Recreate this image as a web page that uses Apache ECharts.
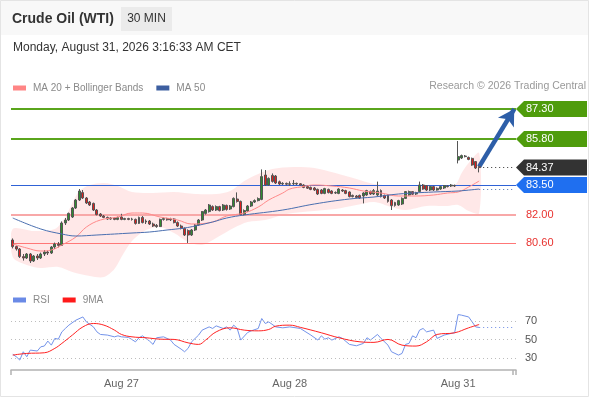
<!DOCTYPE html>
<html>
<head>
<meta charset="utf-8">
<title>Crude Oil (WTI) 30 MIN</title>
<script src="https://cdn.jsdelivr.net/npm/echarts@6/dist/echarts.min.js"></script>
<style>
    html, body { margin: 0; padding: 0; background: #fff; }
    #chart { width: 590px; height: 400px; }
</style>
</head>
<body>
<div id="chart"></div>
<script>
// 30 min candles, [open, close, low, high]
const candles = [
    [80.75, 80.42, 80.33, 80.83], [80.42, 80.30, 80.22, 80.47], [80.30, 79.92, 79.85, 80.35], [79.92, 79.85, 79.72, 80.05],
    [79.85, 80.05, 79.80, 80.10], [80.05, 79.70, 79.60, 80.10], [79.70, 79.95, 79.65, 80.00], [79.95, 79.85, 79.75, 80.05],
    [79.85, 80.05, 79.80, 80.12], [80.05, 80.15, 79.95, 80.25], [80.15, 80.10, 80.00, 80.22], [80.10, 80.40, 80.05, 80.45],
    [80.40, 80.55, 80.30, 80.62], [80.55, 80.48, 80.38, 80.65], [80.48, 81.60, 80.45, 81.68], [81.60, 81.75, 81.50, 81.85],
    [81.75, 82.08, 81.70, 82.12], [81.90, 82.35, 81.85, 82.40], [82.35, 82.75, 82.30, 82.80], [82.75, 83.20, 82.70, 83.30],
    [83.12, 82.85, 82.80, 83.25], [82.85, 82.60, 82.55, 82.90], [82.65, 82.50, 82.45, 82.70], [82.58, 82.25, 82.20, 82.62],
    [82.25, 82.02, 81.98, 82.30], [82.05, 81.95, 81.90, 82.10], [81.95, 81.88, 81.84, 82.00], [81.88, 81.80, 81.76, 81.92],
    [81.80, 81.85, 81.76, 81.90], [81.85, 81.78, 81.74, 81.90], [81.78, 81.87, 81.74, 81.92], [81.90, 81.78, 81.74, 82.06],
    [81.78, 81.82, 81.74, 81.86], [81.82, 81.78, 81.74, 81.86], [81.78, 81.80, 81.72, 81.86], [81.78, 81.58, 81.52, 81.82],
    [81.58, 81.88, 81.55, 81.92], [81.88, 81.62, 81.58, 81.95], [81.65, 81.70, 81.55, 81.78], [81.70, 81.55, 81.50, 81.75],
    [81.55, 81.45, 81.40, 81.62], [81.48, 81.42, 81.36, 81.55], [81.42, 81.78, 81.40, 81.82], [81.78, 81.82, 81.72, 81.88],
    [81.82, 81.76, 81.72, 81.86], [81.76, 81.80, 81.70, 81.86], [81.80, 81.62, 81.58, 81.84], [81.62, 81.45, 81.40, 81.68],
    [81.45, 81.33, 81.28, 81.52], [81.33, 81.00, 80.95, 81.38], [81.22, 81.00, 80.60, 81.28], [81.00, 81.25, 80.95, 81.30],
    [81.25, 81.50, 81.20, 81.55], [81.50, 81.75, 81.45, 81.80], [81.75, 82.17, 81.70, 82.20], [82.08, 82.25, 82.02, 82.30],
    [82.17, 82.50, 82.12, 82.55], [82.42, 82.25, 82.20, 82.48], [82.25, 82.42, 82.20, 82.48], [82.42, 82.22, 82.18, 82.46],
    [82.25, 82.50, 82.20, 82.55], [82.48, 82.28, 82.22, 82.52], [82.30, 82.45, 82.25, 82.50], [82.42, 82.83, 82.38, 82.88],
    [82.80, 82.68, 82.62, 83.13], [82.68, 82.02, 81.98, 82.72], [82.02, 82.22, 81.98, 82.28], [82.20, 82.45, 82.15, 82.50],
    [82.45, 82.65, 82.40, 82.70], [82.65, 82.72, 82.60, 82.78], [82.72, 82.82, 82.68, 82.88], [82.78, 83.92, 82.74, 84.28],
    [84.00, 83.50, 83.45, 84.25], [83.50, 83.83, 83.45, 83.88], [83.98, 83.68, 83.62, 84.08], [83.95, 83.60, 83.55, 84.00],
    [83.66, 83.55, 83.50, 83.72], [83.55, 83.58, 83.50, 83.64], [83.58, 83.54, 83.48, 83.62], [83.54, 83.56, 83.45, 83.68],
    [83.56, 83.58, 83.50, 83.75], [83.58, 83.55, 83.50, 83.62], [83.56, 83.50, 83.46, 83.60], [83.50, 83.38, 83.34, 83.54],
    [83.42, 83.34, 83.30, 83.48], [83.38, 83.28, 83.24, 83.42], [83.35, 83.25, 83.20, 83.40], [83.28, 83.05, 83.00, 83.32],
    [83.25, 83.08, 83.04, 83.30], [83.08, 83.32, 83.04, 83.36], [83.28, 83.12, 83.08, 83.32], [83.20, 83.08, 83.04, 83.24],
    [83.10, 83.12, 83.05, 83.18], [83.08, 83.30, 83.04, 83.34], [83.25, 83.20, 83.15, 83.30], [83.22, 83.08, 83.04, 83.26],
    [83.15, 82.92, 82.88, 83.18], [82.98, 82.92, 82.88, 83.02], [82.95, 82.88, 82.84, 83.00], [82.98, 82.85, 82.80, 83.02],
    [82.95, 83.10, 82.58, 83.14], [83.00, 83.22, 82.96, 83.26], [83.18, 83.05, 83.00, 83.22], [83.05, 83.22, 83.00, 83.30],
    [83.00, 83.20, 82.95, 83.67], [83.22, 82.92, 82.88, 83.28], [82.98, 82.85, 82.80, 83.02], [83.00, 82.68, 82.62, 83.04],
    [82.75, 82.47, 82.25, 82.80], [82.62, 82.48, 82.42, 82.66], [82.50, 82.72, 82.46, 82.76], [82.55, 82.83, 82.50, 82.88],
    [82.83, 83.17, 82.80, 83.20], [83.00, 83.17, 82.96, 83.22], [83.17, 83.04, 83.00, 83.20], [83.05, 83.12, 83.00, 83.16],
    [83.17, 83.50, 83.14, 83.67], [83.50, 83.30, 83.26, 83.55], [83.47, 83.25, 83.20, 83.50], [83.25, 83.42, 83.20, 83.46],
    [83.42, 83.25, 83.20, 83.46], [83.25, 83.33, 83.22, 83.38], [83.30, 83.42, 83.26, 83.46], [83.35, 83.47, 83.30, 83.50],
    [83.42, 83.45, 83.38, 83.50], [83.45, 83.50, 83.40, 83.55], [83.48, 83.45, 83.40, 83.52], [84.75, 84.92, 84.58, 85.70],
    [84.85, 84.97, 84.80, 85.02], [84.95, 84.92, 84.88, 85.00], [84.88, 84.78, 84.74, 84.92], [84.83, 84.50, 84.46, 84.87],
    [84.67, 84.35, 84.30, 84.70], [84.42, 84.37, 84.13, 84.45]
];

const nCats = 144;                // 30 min slots on the axis, incl. empty room on the right
const tickIdx = [31, 79, 127];
const tickText = ['Aug 27', 'Aug 28', 'Aug 31'];

// indicator lines, [slot, value]
const ma20 = [
    [0, 80.55], [4, 80.35], [8, 80.2], [11, 80.25], [14, 80.5], [18, 80.9], [21, 81.4], [25, 81.75], [30, 81.9],
    [34, 82.1], [37, 82.1], [42, 81.9], [47, 81.75], [51, 81.55], [57, 81.65], [61, 81.95], [66, 82.1], [70, 82.4],
    [73, 82.75], [77, 83.1], [79, 83.3], [82, 83.4], [86, 83.5], [91, 83.45], [96, 83.35], [100, 83.2], [105, 83.1],
    [110, 82.95], [115, 82.95], [120, 83.0], [124, 83.1], [127, 83.15], [130, 83.4], [133, 83.7]
];
const ma50 = [
    [0, 81.85], [8, 81.3], [14, 81.05], [18, 80.95], [24, 81.0], [34, 81.1], [39, 81.15], [44, 81.25], [49, 81.35],
    [52, 81.45], [57, 81.65], [61, 81.85], [66, 82.0], [77, 82.25], [86, 82.55], [96, 82.8], [103, 82.9], [110, 83.05],
    [120, 83.15], [127, 83.2], [133, 83.3]
];
const bbUpper = [
    [0, 81.3], [6, 81.2], [12, 81.3], [15, 81.9], [17, 82.6], [19, 83.2], [22, 83.5], [26, 83.6], [30, 83.45],
    [34, 83.15], [40, 83.1], [46, 83.15], [52, 83.05], [58, 83.05], [62, 83.2], [66, 83.7], [70, 84.05], [74, 84.3],
    [80, 84.4], [86, 84.35], [92, 84.1], [98, 83.8], [103, 83.55], [110, 83.45], [118, 83.45], [126, 83.5],
    [128, 84.1], [130, 84.6], [133, 85.1]
];
const bbLower = [
    [0, 79.9], [4, 79.5], [8, 79.35], [13, 79.4], [17, 79.15], [22, 78.95], [26, 78.9], [29, 79.3], [31, 79.9],
    [34, 80.7], [38, 81.25], [42, 81.4], [46, 81.1], [50, 80.65], [54, 80.5], [58, 80.85], [63, 81.35], [67, 81.65],
    [72, 81.75], [78, 82.05], [86, 82.2], [92, 82.3], [98, 82.5], [103, 82.65], [108, 82.4], [112, 82.25],
    [118, 82.45], [124, 82.45], [127, 82.5], [130, 82.2], [133, 82.1]
];
const rsi = [
    [0, 34], [1, 31.4], [2, 27.8], [3, 36.8], [4, 31.4], [5, 38.6], [7, 37.6], [8, 42.2], [9, 43], [10, 48.4],
    [11, 44], [12, 51.3], [13, 50.5], [14, 58.4], [15, 62.1], [16, 65.7], [18, 71.1], [20, 74.6], [21, 69.2],
    [23, 63.8], [24, 58.4], [25, 55.6], [27, 54.9], [29, 53], [30, 54.1], [31, 53], [33, 52.4], [35, 47.6], [36, 52],
    [37, 54.1], [39, 48.4], [40, 44.8], [41, 52], [43, 53], [45, 49.5], [46, 44.8], [48, 39.7], [49, 36.8], [50, 40.5],
    [51, 47.6], [53, 54.9], [54, 60.3], [56, 63.8], [57, 62.1], [58, 64.9], [60, 62.1], [61, 63.8], [62, 60.3],
    [63, 65.7], [64, 62.1], [65, 49.5], [67, 57.8], [68, 59.5], [70, 62.1], [71, 72.9], [72, 67.5], [73, 69.2],
    [75, 63.8], [77, 62.8], [79, 63.8], [82, 62.1], [85, 54.9], [87, 49.5], [88, 54.1], [89, 50.5], [90, 52],
    [91, 49.5], [93, 53], [94, 51.3], [96, 44.8], [98, 43.3], [100, 45.9], [101, 52], [102, 49.5], [104, 55.6],
    [105, 51.3], [107, 44], [108, 36.8], [110, 33.2], [111, 35], [112, 44.8], [113, 45.9], [114, 54.1], [115, 52],
    [116, 60.3], [117, 62.1], [118, 58.4], [120, 60.3], [121, 51.3], [123, 54.9], [125, 56.7], [126, 57.4],
    [127, 77.2], [128, 76.5], [130, 74.6], [131, 69.2], [132, 63.8], [133, 63.2]
];
const rsiMa9 = [
    [0, 33.2], [4, 35], [9, 35.7], [12, 40.5], [14, 45.9], [17, 54.9], [20, 63.8], [23, 67.5], [26, 65.7],
    [29, 60.3], [31, 55.6], [34, 53], [38, 52], [42, 50.5], [46, 50.2], [50, 46.5], [53, 44.8], [55, 49.5],
    [58, 58.4], [62, 62.8], [66, 60.3], [70, 59.5], [73, 61], [75, 64.6], [79, 65.7], [82, 63.3], [88, 57.4],
    [93, 52], [99, 47.6], [103, 47], [107, 50.2], [111, 44], [115, 43], [118, 47.6], [121, 55.6], [126, 57.4],
    [130, 62.8], [133, 66.4]
];

const lastPrice = 84.37;
const target = 87.30;
const resistances = [87.30, 85.80];
const pivot = 83.50;
const supports = [82.00, 80.60];
const rsiLevels = [30, 50, 70];

const FONT = '"Liberation Sans", Arial, sans-serif';
const GRID_LEFT = 11;
const GRID_RIGHT = 516;
const lastIdx = candles.length - 1;
const categories = Array.from({ length: nCats }, (_, i) => String(i));

const chart = echarts.init(document.getElementById('chart'), null, { renderer: 'canvas' });

function hline(v, color, width, type) {
    return { yAxis: v, lineStyle: { color: color, width: width, type: type || 'solid' } };
}

const legendText = { color: '#8a8a8a', fontSize: 10, fontFamily: FONT, padding: [0, 0, 0, 2] };

const option = {
    animation: false,
    backgroundColor: '#fff',
    textStyle: { fontFamily: FONT },
    legend: [
        {
            data: ['MA 20 + Bollinger Bands', 'MA 50'],
            left: 8, top: 78,
            icon: 'rect', itemWidth: 13, itemHeight: 5, itemGap: 13,
            selectedMode: false, textStyle: legendText
        },
        {
            data: ['RSI', '9MA'],
            left: 8, top: 290,
            icon: 'rect', itemWidth: 13, itemHeight: 5, itemGap: 13,
            selectedMode: false, textStyle: legendText
        }
    ],
    grid: [
        { left: GRID_LEFT, right: 590 - GRID_RIGHT, top: 100, height: 180 },
        { left: GRID_LEFT, right: 590 - GRID_RIGHT, top: 300, height: 70 }
    ],
    xAxis: [
        { type: 'category', gridIndex: 0, data: categories, boundaryGap: true, show: false },
        {
            type: 'category', gridIndex: 1, data: categories, boundaryGap: true,
            axisLine: { lineStyle: { color: '#b3b3b3', width: 1.5 } },
            axisTick: {
                show: true, length: 5, lineStyle: { color: '#b3b3b3', width: 1.5 },
                interval: (i) => i === 0 || i === nCats - 1
            },
            axisLabel: {
                interval: (i) => tickIdx.includes(i),
                formatter: (v, i) => tickText[tickIdx.indexOf(i)] || '',
                color: '#666', fontSize: 11, margin: 8, fontFamily: FONT
            },
            splitLine: { show: false }
        }
    ],
    yAxis: [
        { type: 'value', gridIndex: 0, min: 78.75, max: 87.75, show: false },
        {
            type: 'value', gridIndex: 1, min: 17, max: 93, position: 'right',
            axisLine: { show: false }, axisTick: { show: false }, splitLine: { show: false },
            axisLabel: { customValues: rsiLevels, color: '#555', fontSize: 11, margin: 9, fontFamily: FONT }
        }
    ],
    series: [
        {
            // Bollinger band area
            type: 'custom', xAxisIndex: 0, yAxisIndex: 0, silent: true, clip: true, z: 1,
            data: [[0, 80]],
            renderItem: function (params, api) {
                const up = bbUpper.map(p => api.coord(p));
                const lo = bbLower.map(p => api.coord(p)).reverse();
                return {
                    type: 'polygon',
                    shape: { points: up.concat(lo), smooth: 0.3 },
                    style: { fill: 'rgba(255, 165, 165, 0.26)' }
                };
            }
        },
        {
            type: 'candlestick', xAxisIndex: 0, yAxisIndex: 0, z: 3,
            data: candles,
            barWidth: '70%',
            itemStyle: {
                color: '#2f8c2f', color0: '#e11d1d',
                borderColor: '#555', borderColor0: '#555', borderWidth: 1
            },
            markLine: {
                silent: true, symbol: ['none', 'none'], label: { show: false }, z: 2,
                data: [
                    hline(resistances[0], '#5aa51c', 2),
                    hline(resistances[1], '#5aa51c', 2),
                    hline(pivot, '#2f62d6', 1.2),
                    hline(supports[0], '#f8a8a8', 2),
                    hline(supports[1], '#f77', 1),
                    [
                        { coord: [lastIdx, lastPrice], lineStyle: { color: '#333', width: 1, type: [1, 3] } },
                        { coord: [nCats - 1, lastPrice] }
                    ],
                    [
                        { coord: [lastIdx + 0.3, lastPrice + 0.05], symbol: 'none', lineStyle: { color: '#2d5ea8', width: 4.5, type: 'solid' } },
                        { coord: [nCats - 1, target], symbol: 'arrow', symbolSize: [14, 16] }
                    ]
                ]
            }
        },
        {
            name: 'MA 20 + Bollinger Bands', type: 'line', xAxisIndex: 0, yAxisIndex: 0, z: 4,
            data: ma20, smooth: 0.4, showSymbol: false, silent: true,
            lineStyle: { color: '#ff8a8a', width: 1 }, itemStyle: { color: '#ff8585' }
        },
        {
            name: 'MA 50', type: 'line', xAxisIndex: 0, yAxisIndex: 0, z: 4,
            data: ma50, smooth: 0.4, showSymbol: false, silent: true,
            lineStyle: { color: '#4a6fb0', width: 1 }, itemStyle: { color: '#3d5fa0' },
            markLine: {
                silent: true, symbol: ['none', 'none'], label: { show: false },
                data: [[
                    { coord: [lastIdx, ma50[ma50.length - 1][1]], lineStyle: { color: '#4a6fb0', width: 1, type: [1, 3] } },
                    { coord: [nCats - 1, ma50[ma50.length - 1][1]] }
                ]]
            }
        },
        {
            name: 'RSI', type: 'line', xAxisIndex: 1, yAxisIndex: 1, z: 4,
            data: rsi, showSymbol: false, silent: true,
            lineStyle: { color: '#7393ea', width: 1 }, itemStyle: { color: '#6a8ae6' },
            markLine: {
                silent: true, symbol: ['none', 'none'], label: { show: false },
                data: rsiLevels.map(v => hline(v, '#bdbdbd', 1, [1, 3])).concat([[
                    { coord: [lastIdx, rsi[rsi.length - 1][1]], lineStyle: { color: '#6a8ae6', width: 1, type: [1, 3] } },
                    { coord: [nCats - 1, rsi[rsi.length - 1][1]] }
                ]])
            }
        },
        {
            name: '9MA', type: 'line', xAxisIndex: 1, yAxisIndex: 1, z: 5,
            data: rsiMa9, smooth: 0.4, showSymbol: false, silent: true,
            lineStyle: { color: '#f22', width: 1 }, itemStyle: { color: '#ff1a1a' }
        }
    ]
};

chart.setOption(option);

// header, frame and the price tags on the right
function priceTag(v, fill) {
    const y = chart.convertToPixel({ yAxisIndex: 0 }, v);
    return {
        type: 'group', x: GRID_RIGHT, y: y, z: 10,
        children: [
            {
                type: 'polygon',
                shape: { points: [[0, 0], [8, -8], [71, -8], [71, 8], [8, 8]] },
                style: { fill: fill }
            },
            {
                type: 'text', x: 10, y: 0,
                style: { text: v.toFixed(2), fill: '#fff', font: '11px ' + FONT, verticalAlign: 'middle' }
            }
        ]
    };
}
function priceText(v, color) {
    const y = chart.convertToPixel({ yAxisIndex: 0 }, v);
    return {
        type: 'text', x: GRID_RIGHT + 10, y: y, z: 10,
        style: { text: v.toFixed(2), fill: color, font: '11px ' + FONT, verticalAlign: 'middle' }
    };
}

chart.setOption({
    graphic: [
        { type: 'rect', shape: { x: 0, y: 0, width: 589, height: 35 }, style: { fill: '#f8f8f8' }, z: -1 },
        { type: 'rect', shape: { x: 0.5, y: 0.5, width: 588, height: 396 }, style: { fill: 'none', stroke: '#e4e4e4', lineWidth: 1 }, z: 0 },
        { type: 'text', x: 12, y: 19, style: { text: 'Crude Oil (WTI)', fill: '#333', font: 'bold 14px ' + FONT, verticalAlign: 'middle' } },
        { type: 'rect', shape: { x: 121, y: 7, width: 51, height: 24 }, style: { fill: '#ebebeb' } },
        { type: 'text', x: 146.5, y: 19, style: { text: '30 MIN', fill: '#333', font: '12px ' + FONT, align: 'center', verticalAlign: 'middle' } },
        { type: 'text', x: 13, y: 48, style: { text: 'Monday, August 31, 2026 3:16:33 AM CET', fill: '#333', font: '12px ' + FONT, verticalAlign: 'middle' } },
        { type: 'text', x: 586, y: 86, style: { text: 'Research \u00a9 2026 Trading Central', fill: '#999', font: '10.5px ' + FONT, align: 'right', verticalAlign: 'middle' } },
        priceTag(resistances[0], '#4f9c0c'),
        priceTag(resistances[1], '#4f9c0c'),
        priceTag(lastPrice, '#333'),
        priceTag(pivot, '#1f6ff0'),
        priceText(supports[0], '#e8322f'),
        priceText(supports[1], '#e8322f')
    ]
});

window.addEventListener('resize', () => chart.resize());
</script>
</body>
</html>
